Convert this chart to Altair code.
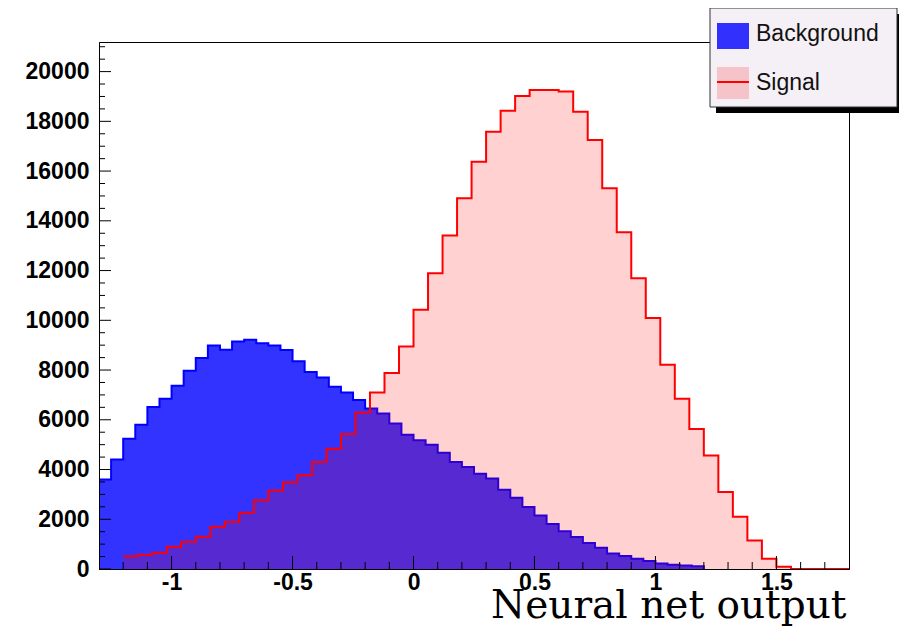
import altair as alt
import pandas as pd

# ---------------- data ----------------
bg_lo, bg_width = -1.3, 0.05
background = [3600, 4400, 5240, 5800, 6510, 6850, 7370, 7970, 8480, 8990,
              8820, 9150, 9220, 9080, 8990, 8810, 8350, 7920, 7700, 7330,
              7100, 6800, 6450, 6250, 5850, 5400, 5180, 5000, 4670, 4300,
              4100, 3830, 3640, 3190, 2860, 2490, 2150, 1810, 1520, 1290,
              1050, 850, 620, 520, 410, 320, 220, 170, 140, 110]

sig_lo, sig_width = -1.2, 0.06
signal = [514, 570, 650, 891, 1092, 1293, 1695, 1896, 2257, 2763,
          3153, 3486, 3767, 4305, 4839, 5430, 6297, 7100, 7880, 8950,
          10420, 11890, 13410, 14910, 16380, 17580, 18430, 19020, 19260, 19260,
          19200, 18390, 17250, 15310, 13540, 11690, 10090, 8210, 6850, 5630,
          4560, 3100, 2100, 1150, 410, 90, 0, 0, 0, 0]

x_major = [-1, -0.5, 0, 0.5, 1, 1.5]
x_minor = [-1.2, -1.1, -0.9, -0.8, -0.7, -0.6, -0.4, -0.3, -0.2, -0.1,
           0.1, 0.2, 0.3, 0.4, 0.6, 0.7, 0.8, 0.9, 1.1, 1.2, 1.3, 1.4, 1.6, 1.7]
y_major = [0, 2000, 4000, 6000, 8000, 10000, 12000, 14000, 16000, 18000, 20000]
y_minor = [500, 1000, 1500, 2500, 3000, 3500, 4500, 5000, 5500, 6500, 7000, 7500,
           8500, 9000, 9500, 10500, 11000, 11500, 12500, 13000, 13500, 14500,
           15000, 15500, 16500, 17000, 17500, 18500, 19000, 19500, 20500, 21000]

x_title = "Neural net output"
legend_labels = ["Background", "Signal"]


def step_frame(lo, width, values):
    edges = [round(lo + width * i, 4) for i in range(len(values) + 1)]
    return pd.DataFrame({"x": edges, "y": list(values) + [0]})


bg_df = step_frame(bg_lo, bg_width, background)
sig_df = step_frame(sig_lo, sig_width, signal)

W, H = 750, 527
BLUE_OP, RED_OP = 0.8, 0.18
xs = alt.Scale(domain=[-1.3, 1.8], nice=False, zero=False)
ys = alt.Scale(domain=[0, 21190], nice=False, zero=True)

x_axis = alt.Axis(values=x_major, labelExpr="datum.value", ticks=False, grid=False,
                  domain=True, domainColor="black", domainWidth=1, zindex=1,
                  labelFont="Liberation Sans", labelFontWeight="bold", labelFontSize=23,
                  labelColor="black", labelPadding=2,
                  title=x_title, titleFont="DejaVu Serif", titleFontSize=39,
                  titleFontWeight="normal", titleColor="black",
                  titleAlign="right", titleBaseline="alphabetic", titleX=747, titleY=48)
y_axis = alt.Axis(values=y_major, labelExpr="datum.value", ticks=False, grid=False,
                  domain=True, domainColor="black", domainWidth=1, zindex=1,
                  labelFont="Liberation Sans", labelFontWeight="bold", labelFontSize=23,
                  labelColor="black", labelPadding=10, title=None)

X = alt.X("x:Q", scale=xs, axis=x_axis)
Y = alt.Y("y:Q", scale=ys, axis=y_axis)

bg_area = alt.Chart(bg_df).mark_area(interpolate="step-after", color="#0000ff",
                                     opacity=BLUE_OP).encode(x=X, y=Y)
bg_line = alt.Chart(bg_df).mark_line(interpolate="step-after", color="#0000ff",
                                     strokeWidth=2).encode(x=X, y=Y)
sig_area = alt.Chart(sig_df).mark_area(interpolate="step-after", color="#ff0000",
                                       opacity=RED_OP).encode(x=X, y=Y)
sig_line = alt.Chart(sig_df).mark_line(interpolate="step-after", color="#ff0000",
                                       strokeWidth=2).encode(x=X, y=Y)

xmaj = alt.Chart(pd.DataFrame({"x": x_major})).mark_rule(color="black", strokeWidth=1).encode(
    x=X, y=alt.value(H), y2=alt.value(H - 13))
xmin = alt.Chart(pd.DataFrame({"x": x_minor})).mark_rule(color="black", strokeWidth=1).encode(
    x=X, y=alt.value(H), y2=alt.value(H - 7))
ymaj = alt.Chart(pd.DataFrame({"y": y_major})).mark_rule(color="black", strokeWidth=1).encode(
    y=Y, x=alt.value(0), x2=alt.value(12))
ymin = alt.Chart(pd.DataFrame({"y": y_minor})).mark_rule(color="black", strokeWidth=1).encode(
    y=Y, x=alt.value(0), x2=alt.value(6))

# ---------------- legend box (ROOT style) ----------------
one = pd.DataFrame({"label": [legend_labels[0]]})
two = pd.DataFrame({"label": [legend_labels[1]]})
shadow = alt.Chart(one).mark_rect(color="black").encode(
    x=alt.value(617), x2=alt.value(804), y=alt.value(-28), y2=alt.value(71))
box = alt.Chart(one).mark_rect(fill="#f5f0f5", stroke="#333333", strokeWidth=1).encode(
    x=alt.value(611), x2=alt.value(798), y=alt.value(-34), y2=alt.value(65))
sw_bg = alt.Chart(one).mark_rect(color="#0000ff", opacity=BLUE_OP).encode(
    x=alt.value(618), x2=alt.value(650), y=alt.value(-19), y2=alt.value(7))
sw_sig = alt.Chart(two).mark_rect(color="#ff0000", opacity=RED_OP).encode(
    x=alt.value(618), x2=alt.value(650), y=alt.value(25), y2=alt.value(57))
sw_line = alt.Chart(two).mark_rule(color="#ff0000", strokeWidth=2).encode(
    x=alt.value(618), x2=alt.value(650), y=alt.value(40))
txt_bg = alt.Chart(one).mark_text(align="left", baseline="middle", font="Liberation Sans",
                                  fontSize=23, color="#111111").encode(
    text="label:N", x=alt.value(657), y=alt.value(-8))
txt_sig = alt.Chart(two).mark_text(align="left", baseline="middle", font="Liberation Sans",
                                   fontSize=23, color="#111111").encode(
    text="label:N", x=alt.value(657), y=alt.value(41))

chart = alt.layer(
    bg_area, bg_line, sig_area, sig_line, xmaj, xmin, ymaj, ymin,
    shadow, box, sw_bg, sw_sig, sw_line, txt_bg, txt_sig
).properties(
    width=W, height=H,
    padding={"left": 91, "top": 34, "right": 50, "bottom": 58},
    autosize=alt.AutoSizeParams(type="none"),
    background="white",
).configure_view(stroke="black", strokeWidth=1)

chart.save("out.html", embed_options={"renderer": "svg", "actions": False})
